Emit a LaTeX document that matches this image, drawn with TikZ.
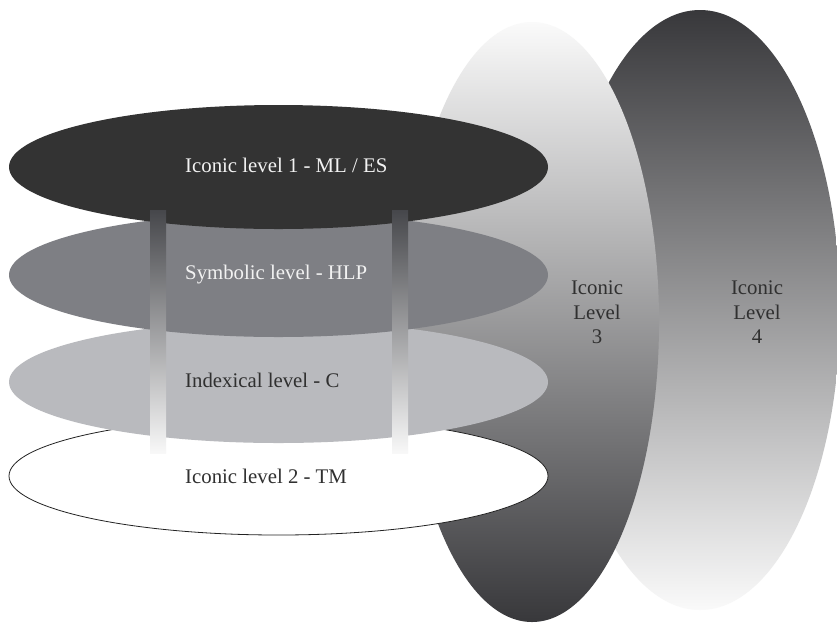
\documentclass[tikz,border=0pt]{standalone}
\usepackage{fontspec}
\setmainfont{Liberation Serif}
\definecolor{darkdisc}{HTML}{333333}
\definecolor{symdisc}{HTML}{7E7F84}
\definecolor{idxdisc}{HTML}{B9BABE}
\definecolor{lighttop}{HTML}{FAFAFA}
\definecolor{darkbot}{HTML}{38383B}
\definecolor{bartop}{HTML}{46474B}
\definecolor{barbot}{HTML}{F8F8F8}
\definecolor{txtdark}{HTML}{303030}
\definecolor{txtlight}{HTML}{F2F2F2}
\definecolor{rimline}{HTML}{222222}
\begin{document}
\begin{tikzpicture}[x=1pt,y=-1pt,
  lbl/.style={inner sep=0pt, font=\fontsize{20.8}{25}\selectfont},
  barshade/.style={top color=bartop, bottom color=barbot, draw=none}]
\useasboundingbox (0,0) rectangle (837,625);
\fill[white] (0,0) rectangle (837,625);
% vertical discs
\shade[top color=darkbot, bottom color=lighttop] (700,310) ellipse [x radius=140pt, y radius=300pt];
\shade[top color=lighttop, bottom color=darkbot] (532,322) ellipse [x radius=127pt, y radius=300pt];
% horizontal discs, bottom to top
\filldraw[fill=white, draw=rimline, line width=0.8pt] (278.5,476) ellipse [x radius=269.5pt, y radius=59pt];
\fill[idxdisc] (278.5,382) ellipse [x radius=269.5pt, y radius=61pt];
\fill[symdisc] (278.5,275) ellipse [x radius=269.5pt, y radius=62pt];
\fill[darkdisc] (278.5,167) ellipse [x radius=269.5pt, y radius=62pt];
% connecting bars
\shade[barshade] (150,210) rectangle (166,453);
\shade[barshade] (392,210) rectangle (408,453);
% labels
\node[lbl, text=txtlight, anchor=base west] (t1) at (185,172) {Iconic level 1 - ML / ES};
\node[lbl, text=txtlight, anchor=base west] (t2) at (185,279) {Symbolic level - HLP};
\node[lbl, text=txtdark, anchor=base west] (t3) at (185,387) {Indexical level - C};
\node[lbl, text=txtdark, anchor=base west] (t4) at (185,483) {Iconic level 2 - TM};
\node[lbl, text=txtdark, anchor=base] (l3a) at (597,294) {Iconic};
\node[lbl, text=txtdark, anchor=base] (l3b) at (597,319) {Level};
\node[lbl, text=txtdark, anchor=base] (l3c) at (597,343) {3};
\node[lbl, text=txtdark, anchor=base] (l4a) at (757,294) {Iconic};
\node[lbl, text=txtdark, anchor=base] (l4b) at (757,319) {Level};
\node[lbl, text=txtdark, anchor=base] (l4c) at (757,343) {4};
\end{tikzpicture}
\end{document}
